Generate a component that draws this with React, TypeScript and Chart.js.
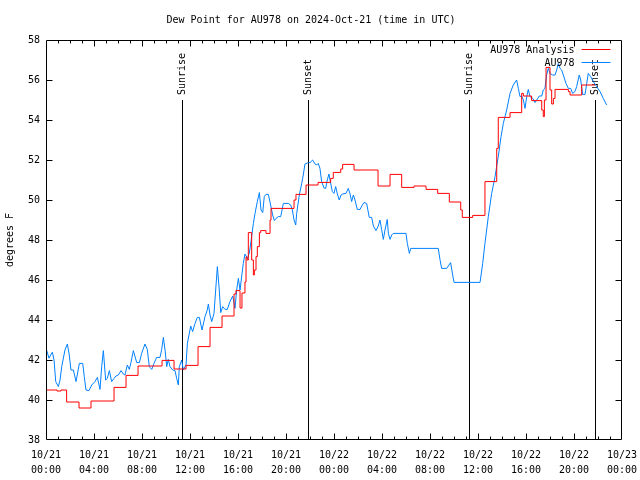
import React, { useEffect, useRef } from "react";
import { Chart, registerables } from "chart.js";

Chart.register(...registerables);

const FONT_FAMILY = "'DejaVu Sans Mono', monospace";
const TITLE = "Dew Point for AU978 on 2024-Oct-21 (time in UTC)";
const Y_LABEL = "degrees F";
const seriesNames = ["AU978 Analysis", "AU978"];
const seriesColors = ["#ff0000", "#0080ff"];

const xTickLabels = [
  ["10/21", "00:00"], ["10/21", "04:00"], ["10/21", "08:00"], ["10/21", "12:00"],
  ["10/21", "16:00"], ["10/21", "20:00"], ["10/22", "00:00"], ["10/22", "04:00"],
  ["10/22", "08:00"], ["10/22", "12:00"], ["10/22", "16:00"], ["10/22", "20:00"],
  ["10/23", "00:00"],
];

// hours since 10/21 00:00 UTC
const sunriseHours = [11.33, 35.28];
const sunsetHours = [21.83, 45.78];

// Analysis (stepped)
const analysisHours = [
  0, 0.92, 1.25, 1.72, 2.75, 3.75, 5.67, 6.67, 7.67, 9.67, 10.67, 11.67,
  12.67, 13.67, 14.67, 15.67, 15.83, 16.17, 16.33, 16.58, 16.67, 16.75, 16.86, 17.14,
  17.28, 17.36, 17.5, 17.61, 17.78, 17.89, 18.33, 18.67, 18.75, 20.67, 20.83, 21.67,
  22.67, 23.72, 23.94, 24.56, 24.72, 25.67, 27.67, 28.67, 29.64, 30.67, 31.67, 32.64,
  33.61, 34.56, 34.69, 35.56, 36.58, 37.56, 37.69, 38.67, 39.64, 39.78, 40.47, 41.31,
  41.44, 41.53, 41.67, 42.0, 42.14, 42.28, 42.42, 43.53, 43.67, 44.64, 45.75,
];
const analysisValues = [
  40.5, 40.45, 40.5, 39.9, 39.6, 39.95, 40.63, 41.23, 41.7, 41.98, 41.55, 41.73,
  42.67, 43.63, 44.2, 45.3, 45.47, 44.6, 45.35, 45.9, 47.15, 47.0, 48.37, 47.0,
  46.25, 46.5, 47.17, 47.67, 48.37, 48.47, 48.33, 49.0, 49.58, 50.0, 50.28, 50.75,
  50.88, 51.08, 51.38, 51.55, 51.78, 51.5, 50.7, 51.28, 50.63, 50.7, 50.53, 50.33,
  49.9, 49.5, 49.13, 49.23, 50.92, 52.58, 54.13, 54.37, 55.33, 55.2, 54.97, 54.5,
  54.17, 55.0, 56.63, 55.5, 54.8, 55.08, 55.53, 55.42, 55.25, 55.75, 55.75,
];

// Station observations
const stationHours = [
  0, 0.25, 0.39, 0.53, 0.67, 0.81, 1.03, 1.17, 1.31, 1.58, 1.78, 1.94,
  2.08, 2.28, 2.5, 2.78, 3.06, 3.19, 3.33, 3.58, 3.81, 4.08, 4.28, 4.5,
  4.64, 4.78, 4.97, 5.11, 5.28, 5.47, 5.67, 5.83, 6.03, 6.25, 6.44, 6.58,
  6.78, 6.94, 7.08, 7.28, 7.56, 7.78, 7.97, 8.25, 8.44, 8.61, 8.81, 9.0,
  9.22, 9.5, 9.64, 9.78, 9.92, 10.06, 10.19, 10.33, 10.56, 10.75, 10.89, 11.03,
  11.11, 11.31, 11.44, 11.67, 11.78, 12.06, 12.22, 12.42, 12.61, 12.78, 13.0, 13.25,
  13.44, 13.53, 13.67, 13.81, 14.0, 14.14, 14.28, 14.44, 14.56, 14.72, 14.92, 15.11,
  15.33, 15.56, 15.75, 15.89, 16.03, 16.17, 16.31, 16.44, 16.58, 16.78, 16.94, 17.08,
  17.28, 17.42, 17.61, 17.78, 17.92, 18.06, 18.19, 18.33, 18.53, 18.72, 18.89, 19.03,
  19.17, 19.36, 19.56, 19.78, 20.19, 20.39, 20.53, 20.67, 20.81, 20.89, 21.11, 21.31,
  21.44, 21.58, 21.86, 22.0, 22.22, 22.42, 22.56, 22.69, 22.83, 22.97, 23.17, 23.31,
  23.44, 23.58, 23.67, 23.86, 24.0, 24.14, 24.28, 24.44, 24.58, 24.72, 25.0, 25.19,
  25.33, 25.47, 25.61, 25.75, 25.94, 26.17, 26.36, 26.5, 26.72, 26.94, 27.14, 27.28,
  27.5, 27.69, 27.83, 27.97, 28.11, 28.25, 28.44, 28.53, 28.67, 28.81, 28.94, 30.0,
  30.11, 30.28, 30.39, 32.69, 32.83, 32.97, 33.39, 33.58, 33.72, 33.89, 34.0, 36.17,
  36.39, 36.58, 36.86, 37.14, 37.42, 37.69, 37.92, 38.11, 38.39, 38.67, 38.94, 39.22,
  39.36, 39.5, 39.64, 39.78, 39.92, 40.06, 40.19, 40.33, 40.56, 40.75, 40.89, 41.11,
  41.31, 41.44, 41.58, 41.72, 41.86, 42.0, 42.22, 42.42, 42.56, 42.69, 42.83, 42.97,
  43.11, 43.33, 43.53, 43.72, 43.89, 44.08, 44.22, 44.44, 44.56, 44.72, 44.92, 45.06,
  45.19, 45.39, 45.61, 45.89, 46.17, 46.44, 46.72,
];
const stationValues = [
  42.59, 42.09, 42.25, 42.39, 42.0, 40.92, 40.67, 41.0, 41.67, 42.5, 42.8, 42.25,
  41.5, 41.5, 40.92, 41.83, 41.83, 41.17, 40.5, 40.47, 40.75, 40.92, 41.13, 40.53,
  41.67, 42.47, 41.0, 41.08, 41.47, 40.92, 41.08, 41.2, 41.25, 41.47, 41.3, 41.25,
  41.75, 41.53, 41.87, 42.47, 41.87, 41.87, 42.33, 42.8, 42.53, 41.67, 41.53, 41.83,
  42.13, 42.13, 42.53, 43.13, 42.5, 41.67, 42.03, 41.67, 41.5, 41.47, 41.08, 40.75,
  41.67, 42.0, 41.5, 41.75, 42.83, 43.7, 43.42, 43.83, 44.13, 44.13, 43.5, 44.17,
  44.5, 44.8, 44.25, 43.92, 44.33, 45.5, 46.67, 45.5, 44.37, 44.67, 44.53, 44.53,
  44.92, 45.2, 44.58, 45.5, 46.08, 45.5, 46.2, 46.83, 47.3, 47.08, 47.33, 47.92,
  48.83, 49.33, 49.92, 50.37, 49.5, 49.37, 50.17, 50.28, 50.28, 49.75, 49.25, 48.97,
  49.08, 49.17, 49.17, 49.83, 49.83, 49.75, 49.5, 49.0, 48.75, 49.33, 50.25, 50.83,
  51.25, 51.8, 51.87, 51.87, 52.0, 51.8, 51.75, 51.83, 51.58, 50.92, 50.6, 50.58,
  51.0, 51.3, 51.0, 50.42, 50.33, 50.67, 50.3, 50.0, 50.25, 50.3, 50.33, 50.58,
  50.33, 49.92, 50.25, 50.0, 49.53, 49.53, 49.75, 49.87, 49.83, 49.13, 49.13, 48.7,
  48.47, 48.7, 49.0, 48.53, 48.03, 48.5, 49.03, 48.33, 48.03, 48.25, 48.33, 48.33,
  47.83, 47.33, 47.58, 47.58, 47.03, 46.58, 46.58, 46.75, 46.87, 46.25, 45.88, 45.88,
  46.83, 47.83, 49.17, 50.33, 51.17, 52.17, 53.17, 53.83, 54.5, 55.33, 55.75, 56.0,
  55.58, 55.17, 55.2, 55.0, 54.58, 55.17, 55.53, 55.17, 55.08, 54.87, 55.0, 55.2,
  55.2, 55.5, 55.58, 56.25, 56.58, 56.33, 56.25, 56.25, 56.5, 56.83, 56.58, 56.5,
  56.25, 55.83, 55.58, 55.58, 55.33, 55.42, 55.67, 56.25, 56.0, 55.28, 55.28, 55.83,
  56.33, 56.17, 55.92, 55.67, 55.42, 55.08, 54.75,
];

const SUN_LINE_TOP = 55; // degrees, where the sunrise/sunset markers start
const font10 = { family: FONT_FAMILY, size: 10, weight: "normal" as const };

const decorPlugin = {
  id: "gnuplotDecor",
  beforeDatasetsDraw(chart: any) {
    const { ctx, chartArea, scales } = chart;
    const x = scales.x, y = scales.y;
    const yTop = Math.round(y.getPixelForValue(SUN_LINE_TOP));
    const events: [number, string][] = [
      ...sunriseHours.map((h) => [h, "Sunrise"] as [number, string]),
      ...sunsetHours.map((h) => [h, "Sunset"] as [number, string]),
    ];
    ctx.save();
    ctx.strokeStyle = "#000";
    ctx.fillStyle = "#000";
    ctx.lineWidth = 1;
    ctx.font = `10px ${FONT_FAMILY}`;
    for (const [h, label] of events) {
      const px = Math.round(x.getPixelForValue(h)) + 0.5;
      ctx.beginPath();
      ctx.moveTo(px, yTop);
      ctx.lineTo(px, chartArea.bottom);
      ctx.stroke();
      ctx.save();
      ctx.translate(px, yTop - 5);
      ctx.rotate(-Math.PI / 2);
      ctx.textAlign = "left";
      ctx.textBaseline = "middle";
      ctx.fillText(label, 0, 0);
      ctx.restore();
    }
    ctx.restore();
  },
  afterDraw(chart: any) {
    const { ctx, chartArea, scales } = chart;
    const { left, right, top, bottom } = chartArea;
    const x = scales.x, y = scales.y;
    ctx.save();
    ctx.strokeStyle = "#000";
    ctx.lineWidth = 1;
    const L = Math.round(left) + 0.5, R = Math.round(right) - 0.5;
    const T = Math.round(top) + 0.5, B = Math.round(bottom) - 0.5;
    ctx.beginPath();
    ctx.rect(L, T, R - L, B - T);
    ctx.stroke();
    ctx.beginPath();
    for (let h = x.min + 1; h < x.max; h++) {
      const px = Math.round(x.getPixelForValue(h)) + 0.5;
      const len = h % 4 === 0 ? 6 : 3;
      ctx.moveTo(px, B); ctx.lineTo(px, B - len);
      ctx.moveTo(px, T); ctx.lineTo(px, T + len);
    }
    for (let v = y.min + 2; v < y.max; v += 2) {
      const py = Math.round(y.getPixelForValue(v)) + 0.5;
      ctx.moveTo(L, py); ctx.lineTo(L + 6, py);
      ctx.moveTo(R, py); ctx.lineTo(R - 6, py);
    }
    ctx.stroke();

    // legend (top right, text right-aligned, sample to the right)
    ctx.font = `10px ${FONT_FAMILY}`;
    ctx.textAlign = "right";
    ctx.textBaseline = "middle";
    ctx.fillStyle = "#000";
    seriesNames.forEach((name, i) => {
      const ly = T + 9.5 + i * 13;
      ctx.fillText(name, R - 47, ly);
      ctx.strokeStyle = seriesColors[i];
      ctx.beginPath();
      ctx.moveTo(R - 40, Math.floor(ly) - 0.5);
      ctx.lineTo(R - 11, Math.floor(ly) - 0.5);
      ctx.stroke();
    });
    ctx.restore();
  },
};

export default function App() {
  const canvasRef = useRef<HTMLCanvasElement | null>(null);

  useEffect(() => {
    const canvas = canvasRef.current;
    if (!canvas) return;
    const chart = new Chart(canvas, {
      type: "line",
      data: {
        datasets: [
          {
            label: seriesNames[0],
            data: analysisHours.map((h, i) => ({ x: h, y: analysisValues[i] })),
            borderColor: seriesColors[0],
            borderWidth: 1,
            pointRadius: 0,
            stepped: "before",
            fill: false,
          },
          {
            label: seriesNames[1],
            data: stationHours.map((h, i) => ({ x: h, y: stationValues[i] })),
            borderColor: seriesColors[1],
            borderWidth: 1,
            pointRadius: 0,
            tension: 0,
            fill: false,
          },
        ],
      },
      options: {
        responsive: false,
        animation: false,
        events: [],
        layout: { padding: { left: 0, right: 18, top: 0, bottom: 0 } },
        plugins: {
          legend: { display: false },
          tooltip: { enabled: false },
          title: {
            display: true,
            text: TITLE,
            color: "#000",
            font: { ...font10, lineHeight: 1.2 },
            padding: { top: 14, bottom: 14 },
          },
        },
        scales: {
          x: {
            type: "linear",
            min: 0,
            max: 48,
            afterFit: (s: any) => {
              s.height = 40;
              s.paddingLeft = 0;
              s.paddingRight = 0;
            },
            ticks: {
              stepSize: 4,
              autoSkip: false,
              maxRotation: 0,
              minRotation: 0,
              padding: 8,
              color: "#000",
              font: { ...font10, lineHeight: 1.5 },
              callback: (v: any) => xTickLabels[Math.round(Number(v) / 4)],
            },
            grid: { display: false, drawTicks: false },
            border: { display: false },
          },
          y: {
            type: "linear",
            min: 38,
            max: 58,
            afterFit: (s: any) => {
              s.width = 46;
              s.paddingTop = 0;
              s.paddingBottom = 0;
            },
            ticks: {
              stepSize: 2,
              padding: 6,
              color: "#000",
              font: font10,
            },
            grid: { display: false, drawTicks: false },
            border: { display: false },
            title: {
              display: true,
              text: Y_LABEL,
              color: "#000",
              font: { ...font10, lineHeight: 1.2 },
              padding: { top: 4, bottom: 0 },
            },
          },
        },
      },
      plugins: [decorPlugin],
    });
    return () => chart.destroy();
  }, []);

  return (
    <div style={{ position: "fixed", left: 0, top: 0, width: 640, height: 480, background: "#fff" }}>
      <canvas ref={canvasRef} width={640} height={480} />
    </div>
  );
}
